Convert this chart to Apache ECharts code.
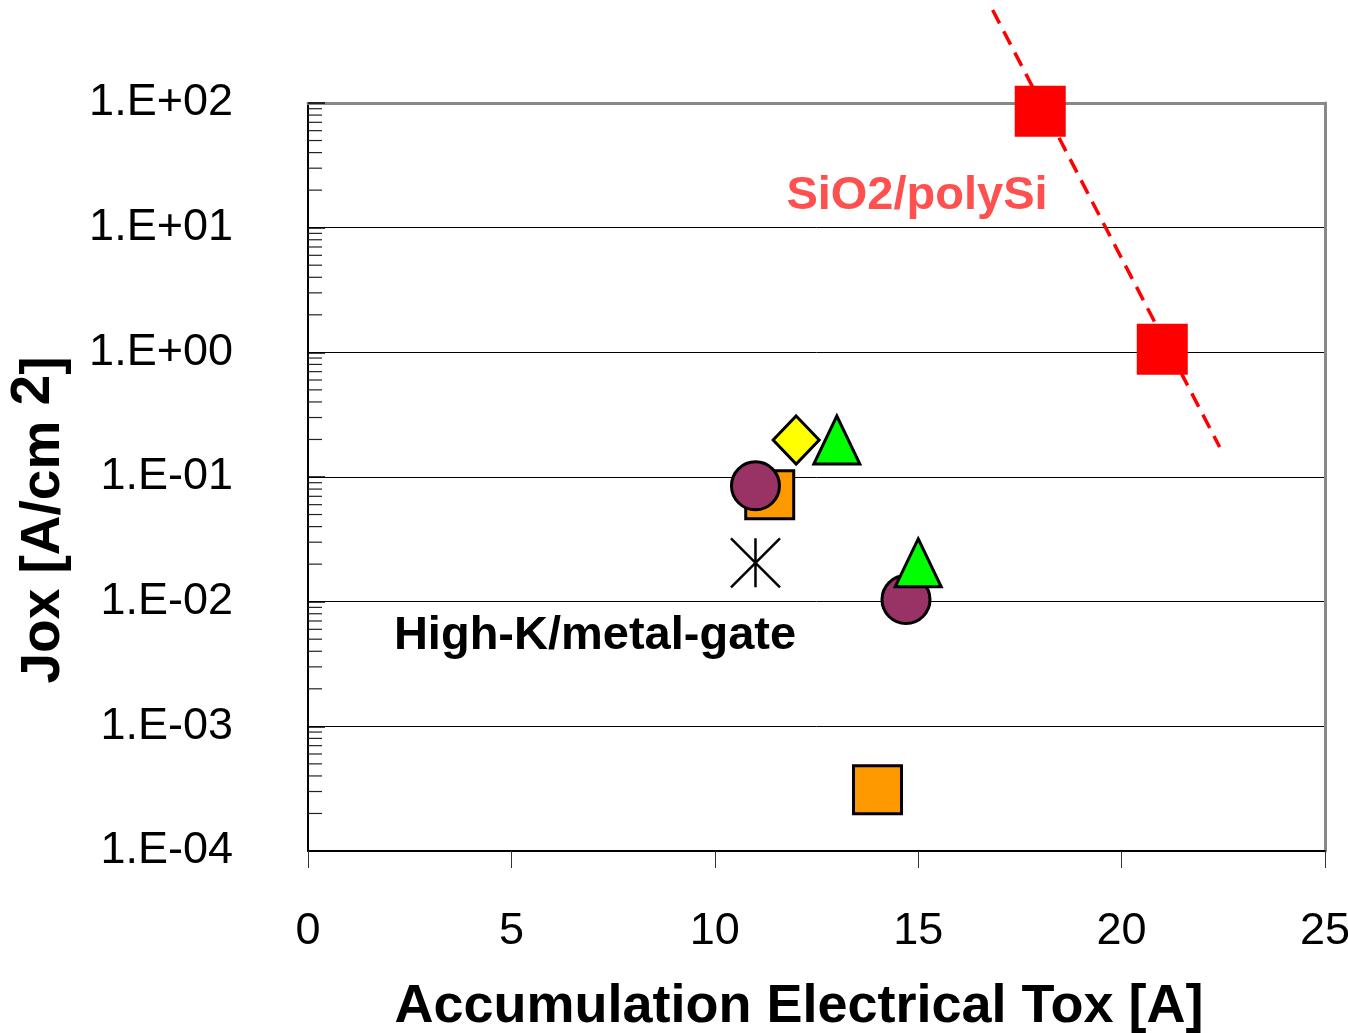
<!DOCTYPE html>
<html>
<head>
<meta charset="utf-8">
<script src="https://cdn.jsdelivr.net/npm/echarts@6/dist/echarts.min.js"></script>
<style>
html,body{margin:0;padding:0;background:#fff;}
#chart{width:1348px;height:1033px;}
</style>
</head>
<body>
<div id="chart"></div>
<script>
// ---- data ----
var xTickLabels = ['0', '5', '10', '15', '20', '25'];
var yTickLabels = ['1.E-04', '1.E-03', '1.E-02', '1.E-01', '1.E+00', '1.E+01', '1.E+02'];
var minorMultipliers = [2, 3, 4, 5, 6, 7, 8, 9];
var minorDecades = [1e-4, 1e-3, 1e-2, 1e-1, 1, 10];

var sio2Squares = [[18.0, 86], [21.0, 1.06]];
var sio2TrendLine = [[16.83, 557], [22.41, 0.174]];
var orangeSquares = [[11.35, 0.072], [14.0, 3.1e-4]];
var purpleCircles = [[11.0, 0.085], [14.7, 0.0104]];
var yellowDiamonds = [[12.0, 0.198]];
var greenTriangles = [[13.0, 0.198], [15.0, 0.0205]];
var asterisks = [[11.0, 0.0205]];

var minorTicks = [];
minorDecades.forEach(function (d) {
  minorMultipliers.forEach(function (m) { minorTicks.push([0, m * d]); });
});

var FONT = "'Liberation Sans', Arial, sans-serif";
var chart = echarts.init(document.getElementById('chart'), null, {renderer: 'canvas'});

function yLabel(v) {
  var e = Math.round(Math.log10(v));
  var idx = e + 4;
  return yTickLabels[idx] !== undefined ? yTickLabels[idx] : '';
}

var option = {
  animation: false,
  backgroundColor: '#fff',
  grid: {left: 308, top: 103, width: 1017, height: 748, containLabel: false, outerBoundsMode: 'none'},
  xAxis: [{
    type: 'value', min: 0, max: 25, interval: 5,
    axisLine: {show: true, onZero: false, lineStyle: {color: '#000', width: 2}},
    axisTick: {show: true, inside: false, length: 17, lineStyle: {color: '#333', width: 1}},
    axisLabel: {fontFamily: FONT, fontSize: 45, color: '#000', margin: 58,
      formatter: function (v) { return xTickLabels[Math.round(v / 5)]; }},
    splitLine: {show: false}
  }, {
    type: 'value', min: 0, max: 1, position: 'top',
    axisLine: {show: true, onZero: false, lineStyle: {color: '#888', width: 3}},
    axisTick: {show: false}, axisLabel: {show: false}, splitLine: {show: false}
  }],
  yAxis: [{
    type: 'log', logBase: 10, min: 1e-4, max: 1e2, splitNumber: 6,
    axisLine: {show: true, onZero: false, lineStyle: {color: '#000', width: 2}},
    axisTick: {show: true, inside: true, length: 17, lineStyle: {color: '#000', width: 1.5}},
    axisLabel: {fontFamily: FONT, fontSize: 45, color: '#000', margin: 75, formatter: yLabel},
    splitLine: {show: true, lineStyle: {color: '#000', width: 1}}
  }, {
    type: 'value', min: 0, max: 1, position: 'right',
    axisLine: {show: true, onZero: false, lineStyle: {color: '#888', width: 3}},
    axisTick: {show: false}, axisLabel: {show: false}, splitLine: {show: false}
  }],
  series: [
    {
      type: 'custom', xAxisIndex: 0, yAxisIndex: 0, data: minorTicks, silent: true, z: 3,
      renderItem: function (params, api) {
        var p = api.coord([api.value(0), api.value(1)]);
        return {type: 'line', shape: {x1: p[0], y1: p[1], x2: p[0] + 14, y2: p[1]},
          style: {stroke: '#222', lineWidth: 1.2}};
      }
    },
    {
      type: 'line', data: sio2TrendLine, symbol: 'none', clip: false, z: 4,
      lineStyle: {color: '#FF0000', width: 3.5, type: [15, 9]}
    },
    {
      type: 'scatter', data: orangeSquares, symbol: 'rect', symbolSize: 48, z: 5,
      itemStyle: {color: '#FF9900', borderColor: '#000', borderWidth: 3, opacity: 1}
    },
    {
      type: 'scatter', data: purpleCircles, symbol: 'circle', symbolSize: 48, z: 6,
      itemStyle: {color: '#993366', borderColor: '#000', borderWidth: 3, opacity: 1}
    },
    {
      type: 'scatter', data: yellowDiamonds, symbol: 'diamond', symbolSize: [46, 48], z: 7,
      itemStyle: {color: '#FFFF00', borderColor: '#000', borderWidth: 3, opacity: 1}
    },
    {
      type: 'scatter', data: greenTriangles, symbol: 'triangle', symbolSize: [46, 48], z: 8,
      itemStyle: {color: '#00FF00', borderColor: '#000', borderWidth: 3, opacity: 1}
    },
    {
      type: 'scatter', data: asterisks, symbol: 'path://M0,0L50,50M50,0L0,50M25,0L25,50',
      symbolSize: 49, z: 9,
      itemStyle: {color: 'none', borderColor: '#000', borderWidth: 2.5, opacity: 1}
    },
    {
      type: 'scatter', data: sio2Squares, symbol: 'rect', symbolSize: 51, z: 10,
      itemStyle: {color: '#FF0000', borderWidth: 0, opacity: 1}
    }
  ],
  graphic: [
    {type: 'text', x: 799, y: 1007, z: 20,
      style: {text: 'Accumulation Electrical Tox [A]', font: 'bold 54px ' + FONT, fill: '#000',
        textAlign: 'center', textVerticalAlign: 'middle'}},
    {type: 'text', x: 44, y: 520, rotation: Math.PI / 2, z: 20,
      style: {text: 'Jox [A/cm {sup|2}]', font: 'bold 55px ' + FONT, fill: '#000',
        textAlign: 'center', textVerticalAlign: 'middle',
        rich: {sup: {font: 'bold 55px ' + FONT, fill: '#000', padding: [0, 0, 20, 0]}}}},
    {type: 'text', x: 917, y: 196, z: 20,
      style: {text: 'SiO2/polySi', font: 'bold 47px ' + FONT, fill: '#FF5050',
        textAlign: 'center', textVerticalAlign: 'middle'}},
    {type: 'text', x: 595, y: 636, z: 20,
      style: {text: 'High-K/metal-gate', font: 'bold 47px ' + FONT, fill: '#000',
        textAlign: 'center', textVerticalAlign: 'middle'}}
  ]
};
chart.setOption(option);
</script>
</body>
</html>
